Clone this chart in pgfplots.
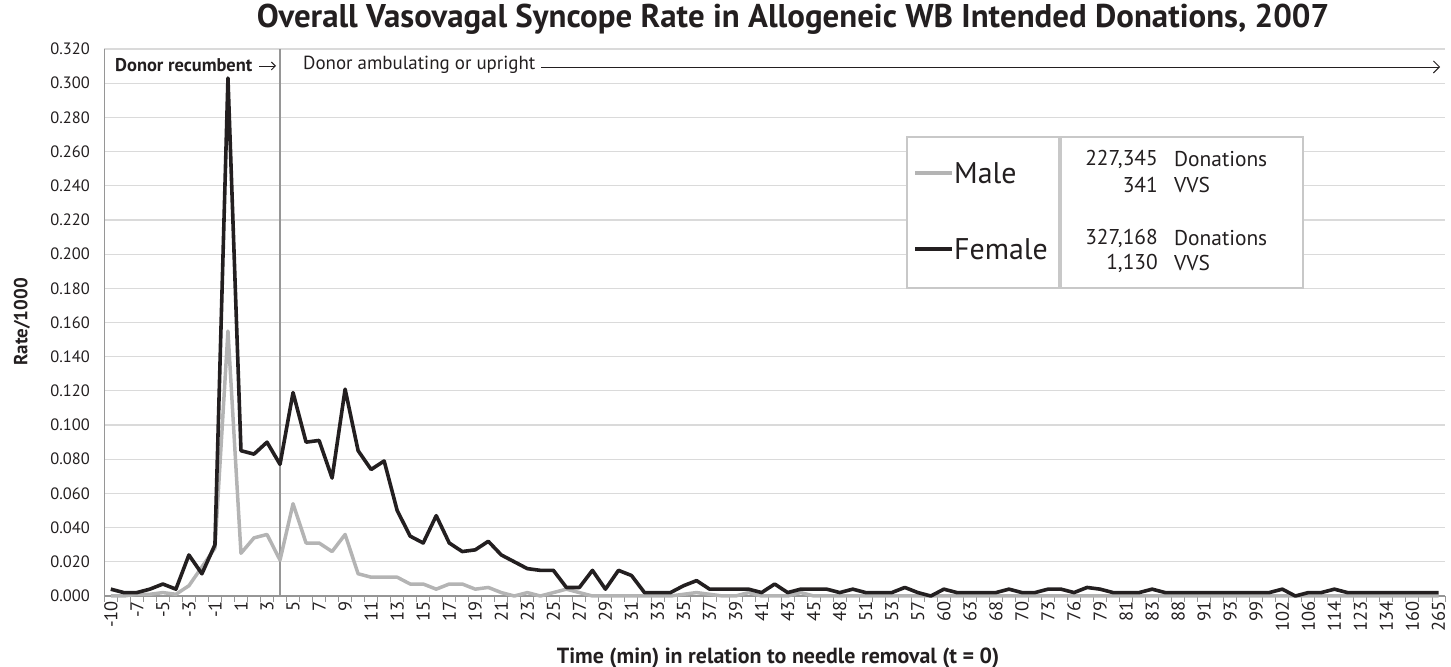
\documentclass[border=0pt]{standalone}
\usepackage{fontspec}
\setmainfont{PT Sans}
\usepackage{pgfplots}
\usepackage{pgfplotstable}
\pgfplotsset{compat=1.18}
\usetikzlibrary{arrows.meta}
\definecolor{malegray}{RGB}{180,180,180}
\definecolor{femaleblack}{RGB}{35,31,32}
\definecolor{gridgray}{RGB}{218,218,218}
\definecolor{axisgray}{RGB}{150,150,150}
\definecolor{boxgray}{RGB}{200,200,200}
\definecolor{txt}{RGB}{35,31,32}

\pgfplotstableread{
idx male female
0 0.000 0.004
1 0.000 0.002
2 0.001 0.002
3 0.001 0.004
4 0.002 0.007
5 0.001 0.004
6 0.006 0.024
7 0.017 0.013
8 0.028 0.030
9 0.155 0.303
10 0.025 0.085
11 0.034 0.083
12 0.036 0.090
13 0.021 0.077
14 0.054 0.119
15 0.031 0.090
16 0.031 0.091
17 0.026 0.069
18 0.036 0.121
19 0.013 0.085
20 0.011 0.074
21 0.011 0.079
22 0.011 0.050
23 0.007 0.035
24 0.007 0.031
25 0.004 0.047
26 0.007 0.031
27 0.007 0.026
28 0.004 0.027
29 0.005 0.032
30 0.002 0.024
31 0.000 0.020
32 0.002 0.016
33 0.000 0.015
34 0.002 0.015
35 0.004 0.005
36 0.002 0.005
37 0.000 0.015
38 0.000 0.004
39 0.000 0.015
40 0.000 0.012
41 0.000 0.002
42 0.000 0.002
43 0.000 0.002
44 0.001 0.006
45 0.002 0.009
46 0.001 0.004
47 0.000 0.004
48 0.000 0.004
49 0.002 0.004
50 0.000 0.002
51 0.000 0.007
52 0.000 0.002
53 0.002 0.004
54 0.000 0.004
55 0.000 0.004
56 0.000 0.002
57 0.000 0.004
58 0.000 0.002
59 0.000 0.002
60 0.000 0.002
61 0.000 0.005
62 0.000 0.002
63 0.000 0.000
64 0.000 0.004
65 0.000 0.002
66 0.000 0.002
67 0.000 0.002
68 0.000 0.002
69 0.000 0.004
70 0.000 0.002
71 0.000 0.002
72 0.000 0.004
73 0.000 0.004
74 0.000 0.002
75 0.000 0.005
76 0.000 0.004
77 0.000 0.002
78 0.000 0.002
79 0.000 0.002
80 0.000 0.004
81 0.000 0.002
82 0.000 0.002
83 0.000 0.002
84 0.000 0.002
85 0.000 0.002
86 0.000 0.002
87 0.000 0.002
88 0.000 0.002
89 0.000 0.002
90 0.000 0.004
91 0.000 0.000
92 0.000 0.002
93 0.000 0.002
94 0.000 0.004
95 0.000 0.002
96 0.000 0.002
97 0.000 0.002
98 0.000 0.002
99 0.000 0.002
100 0.000 0.002
101 0.000 0.002
102 0.000 0.002
}\vvsdata

\begin{document}
\begin{tikzpicture}[x=1bp,y=1bp]
\useasboundingbox (0,0) rectangle (1451,667);
\begin{axis}[
  at={(104.3bp,71bp)}, anchor=south west,
  width=1340.7bp, height=547bp, scale only axis,
  xmin=-0.5, xmax=102.5, ymin=0, ymax=0.32,
  axis x line=bottom, axis y line=left,
  axis line style={-, axisgray, line width=1.2bp},
  ytick={0,0.02,0.04,0.06,0.08,0.10,0.12,0.14,0.16,0.18,0.20,0.22,0.24,0.26,0.28,0.30,0.32},
  ymajorgrids, grid style={gridgray, line width=1.2bp},
  major tick length=0pt,
  xtick={0,2,...,102},
  xticklabels={-10,-7,-5,-3,-1,1,3,5,7,9,11,13,15,17,19,21,23,25,27,29,31,33,35,37,39,41,43,45,48,51,53,57,60,63,68,70,73,76,79,81,83,88,91,93,99,102,106,114,123,134,160,265},
  minor xtick={-0.5,0.5,...,102.5},
  minor tick length=6bp, tick align=outside,
  minor x tick style={axisgray, line width=1bp},
  xticklabel style={yshift=-5bp, rotate=90, anchor=east, font=\fontsize{18.5}{20}\selectfont, text=txt, inner xsep=0pt},
  yticklabel style={font=\fontsize{16.5}{19}\selectfont, text=txt, xshift=-11bp,
    /pgf/number format/.cd, fixed, fixed zerofill, precision=3},
  /pgf/number format/assume math mode=true,
  clip=false,
]
\draw[axisgray, line width=1.2bp] (axis cs:13,0) -- (axis cs:13,0.32);
\addplot[malegray, line width=3.5bp, line join=round] table[x=idx,y=male]{\vvsdata};
\addplot[femaleblack, line width=3.6bp, line join=round] table[x=idx,y=female]{\vvsdata};
\end{axis}
% title and axis labels
\node[font=\bfseries\fontsize{33}{36}\selectfont, text=txt] at (793,648) {Overall Vasovagal Syncope Rate in Allogeneic WB Intended Donations, 2007};
\node[rotate=90, font=\bfseries\fontsize{19}{22}\selectfont, text=txt] at (22,345) {Rate/1000};
\node[font=\bfseries\fontsize{22}{25}\selectfont, text=txt] at (778,9) {Time (min) in relation to needle removal (t = 0)};
% phase annotations
\node[anchor=west, inner sep=0, font=\bfseries\fontsize{18.5}{21}\selectfont, text=txt] at (115,602) {Donor recumbent};
\draw[-{Straight Barb[length=4bp]}, line width=0.9bp, txt] (259,601) -- (276,601);
\node[anchor=west, inner sep=0, font=\fontsize{19}{22}\selectfont, text=txt] at (303,602) {Donor ambulating or upright};
\draw[-{Straight Barb[length=6bp]}, line width=0.9bp, txt] (541,600) -- (1440,600);
% legend box
\draw[boxgray, line width=1.5bp, fill=white] (907,530) rectangle (1059,379);
\draw[boxgray, line width=1.5bp, fill=white] (1061,530) rectangle (1303,379);
\draw[malegray, line width=3.5bp] (915,494) -- (952,494);
\node[anchor=west, inner sep=0, font=\fontsize{30}{34}\selectfont, text=txt] at (954,494) {Male};
\draw[femaleblack, line width=3.5bp] (915,418) -- (952,418);
\node[anchor=west, inner sep=0, font=\fontsize{30}{34}\selectfont, text=txt] at (954,418) {Female};
\begin{scope}[every node/.style={inner sep=0, font=\fontsize{21.5}{24}\selectfont, text=txt}]
\node[anchor=east] at (1158,508) {227,345};
\node[anchor=west] at (1174,508) {Donations};
\node[anchor=east] at (1158,482) {341};
\node[anchor=west] at (1174,482) {VVS};
\node[anchor=east] at (1158,429) {327,168};
\node[anchor=west] at (1174,429) {Donations};
\node[anchor=east] at (1158,404) {1,130};
\node[anchor=west] at (1174,404) {VVS};
\end{scope}
\end{tikzpicture}
\end{document}
